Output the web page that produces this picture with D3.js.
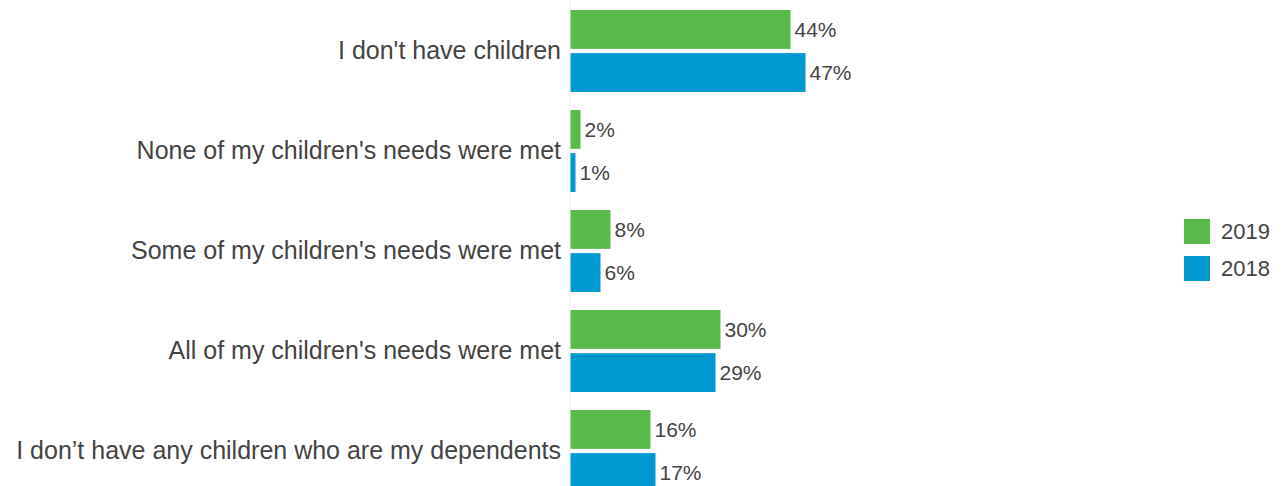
<!DOCTYPE html>
<html>
<head>
<meta charset="utf-8">
<script src="https://cdn.jsdelivr.net/npm/d3@7/dist/d3.min.js"></script>
<style>
  html, body { margin: 0; padding: 0; background: #fff; }
  svg { display: block; font-family: "Liberation Sans", Arial, sans-serif; }
</style>
</head>
<body>
<svg id="chart" width="1282" height="486"></svg>
<script>
// Answers, top to bottom
const categories = [
  "I don't have children",
  "None of my children's needs were met",
  "Some of my children's needs were met",
  "All of my children's needs were met",
  "I don\u2019t have any children who are my dependents"
];
const seriesNames = ["2019", "2018"];
const values2019 = [44, 2, 8, 30, 16];
const values2018 = [47, 1, 6, 29, 17];
const seriesColors = ["#59b94a", "#0099cf"];

const svg = d3.select("#chart");
const textColor = "#444";

const x = d3.scaleLinear().domain([0, 100]).range([570, 1070]);
const y = d3.scaleBand().domain(categories).range([1, 501])
  .paddingInner(0.18).paddingOuter(0.09);
const ySub = d3.scaleBand().domain(seriesNames).range([0, y.bandwidth()])
  .paddingInner(0.1);
const color = d3.scaleOrdinal().domain(seriesNames).range(seriesColors);

const rows = categories.map((c, i) => ({
  category: c,
  series: [
    { name: "2019", value: values2019[i] },
    { name: "2018", value: values2018[i] }
  ]
}));

// baseline
svg.append("line")
  .attr("x1", x(0)).attr("x2", x(0))
  .attr("y1", 0).attr("y2", 486)
  .attr("stroke", "#ececec").attr("stroke-width", 1);

const groups = svg.selectAll("g.row").data(rows).join("g")
  .attr("class", "row")
  .attr("transform", d => `translate(0,${y(d.category)})`);

groups.selectAll("rect").data(d => d.series).join("rect")
  .attr("x", x(0) + 0.5)
  .attr("y", d => ySub(d.name))
  .attr("width", d => x(d.value) - x(0))
  .attr("height", ySub.bandwidth())
  .attr("fill", d => color(d.name));

groups.selectAll("text.val").data(d => d.series).join("text")
  .attr("class", "val")
  .attr("x", d => x(d.value) + 4.5)
  .attr("y", d => ySub(d.name) + ySub.bandwidth() / 2)
  .attr("dy", "0.35em")
  .attr("font-size", 21)
  .attr("fill", textColor)
  .text(d => d.value + "%");

// category labels
svg.append("g").selectAll("text").data(categories).join("text")
  .attr("x", 561)
  .attr("y", d => y(d) + y.bandwidth() / 2)
  .attr("dy", "0.33em")
  .attr("text-anchor", "end")
  .attr("font-size", 25)
  .attr("fill", textColor)
  .text(d => d);

// legend
const legend = svg.append("g").attr("transform", "translate(1184,219)");
const li = legend.selectAll("g").data(seriesNames).join("g")
  .attr("transform", (d, i) => `translate(0,${i * 37})`);
li.append("rect").attr("width", 26).attr("height", 25).attr("fill", d => color(d));
li.append("text").attr("x", 37).attr("y", 12.5).attr("dy", "0.35em")
  .attr("font-size", 22).attr("fill", textColor).text(d => d);
</script>
</body>
</html>
